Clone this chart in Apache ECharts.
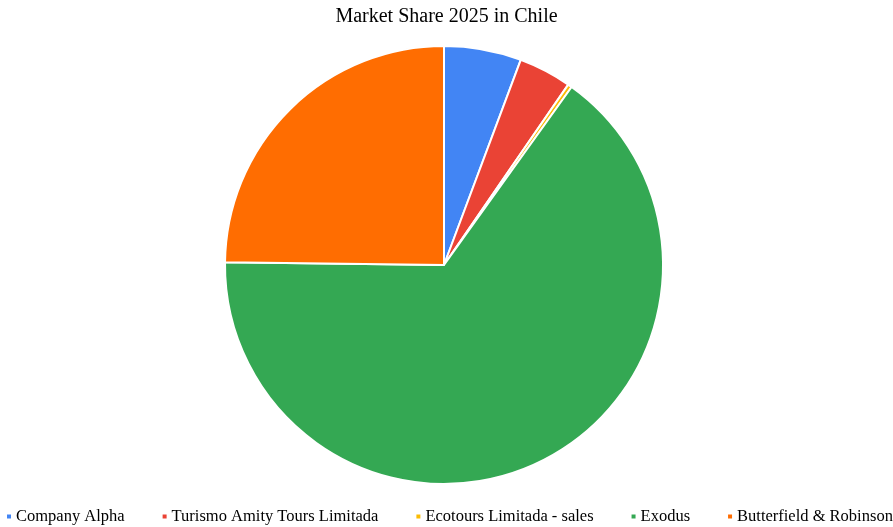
<!DOCTYPE html>
<html><head><meta charset="utf-8">
<script src="https://cdn.jsdelivr.net/npm/echarts@6/dist/echarts.min.js"></script>
<style>html,body{margin:0;padding:0;background:#fff}#c{width:893px;height:527px}</style>
</head><body><div id="c"></div>
<script>
const categories = ["Company Alpha", "Turismo Amity Tours Limitada", "Ecotours Limitada - sales", "Exodus", "Butterfield & Robinson"];
const values = [5.7, 3.9, 0.3, 65.3, 24.8];
const colors = ["#4285f4", "#ea4335", "#fbbc04", "#34a853", "#ff6d01"];
const chart = echarts.init(document.getElementById('c'));
chart.setOption({
  animation: false,
  color: colors,
  title: {text: "Market Share 2025 in Chile", left: 'center', top: 2,
    textStyle: {fontFamily: 'Liberation Serif', fontSize: 20, fontWeight: 'normal', color: '#000'}},
  legend: {bottom: -3, left: 5, width: 1000, padding: [5, 0, 5, 0], itemWidth: 6, itemHeight: 6, itemGap: 36, icon: 'rect',
    textStyle: {fontFamily: 'Liberation Serif', fontSize: 16.5, color: '#000', padding: [0,0,0,-1]},
    data: categories},
  series: [{type: 'pie', center: [444, 265], radius: 219, startAngle: 90, clockwise: true,
    label: {show: false}, labelLine: {show: false},
    itemStyle: {borderColor: '#fff', borderWidth: 2},
    emphasis: {disabled: true},
    data: categories.map((n, i) => ({name: n, value: values[i]}))}]
});
</script></body></html>
